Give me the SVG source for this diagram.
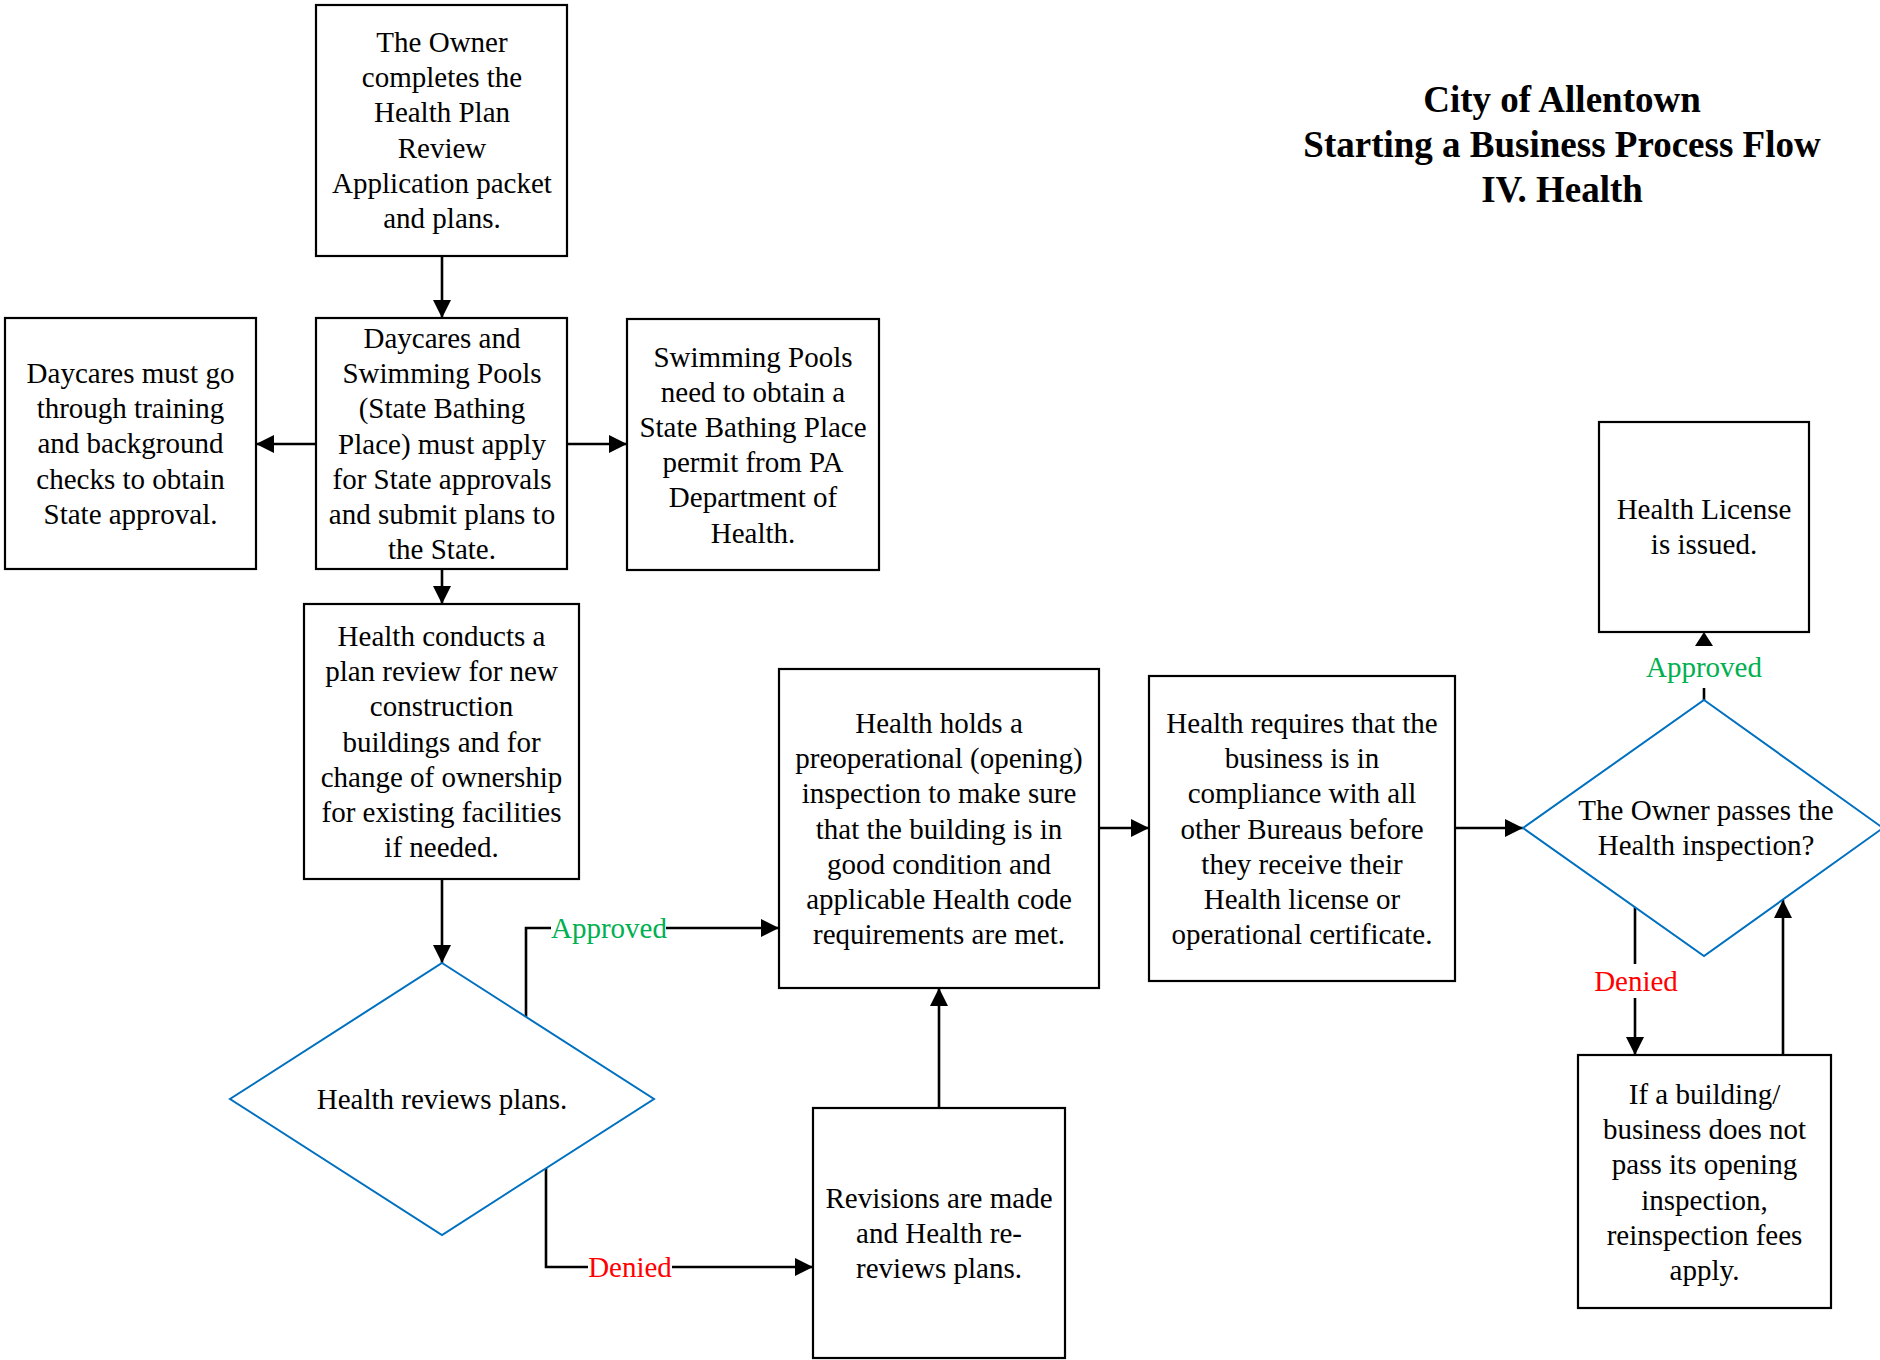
<svg xmlns="http://www.w3.org/2000/svg" width="1880" height="1360" viewBox="0 0 1880 1360">
<defs>
<style>
.box{fill:#fff;stroke:#000;stroke-width:2.2}
.dia{fill:#fff;stroke:#0070C0;stroke-width:2}
.t{font-family:"Liberation Serif","Times New Roman",serif;font-size:29px;fill:#000;text-anchor:middle}
.title{font-family:"Liberation Serif","Times New Roman",serif;font-size:37px;font-weight:bold;fill:#000;text-anchor:middle}
.c{fill:none;stroke:#000;stroke-width:2.6}
.ok{font-family:"Liberation Serif","Times New Roman",serif;font-size:29px;fill:#00B050;text-anchor:middle}
.no{font-family:"Liberation Serif","Times New Roman",serif;font-size:29px;fill:#FF0000;text-anchor:middle}
.bg{fill:#fff}
</style>
<marker id="ah" markerUnits="userSpaceOnUse" markerWidth="20" markerHeight="20" refX="18" refY="9" orient="auto">
<path d="M0,0 L18,9 L0,18 z" fill="#000"/>
</marker>
</defs>
<rect width="1880" height="1360" fill="#fff"/>

<g id="title">
<text class="title" x="1562" y="112">City of Allentown</text>
<text class="title" x="1562" y="157">Starting a Business Process Flow</text>
<text class="title" x="1562" y="202">IV. Health</text>
</g>

<g id="connectors">
<path class="c" d="M442,256 L442,318" marker-end="url(#ah)"/>
<path class="c" d="M316,444 L256,444" marker-end="url(#ah)"/>
<path class="c" d="M567,444 L627,444" marker-end="url(#ah)"/>
<path class="c" d="M442,569 L442,604" marker-end="url(#ah)"/>
<path class="c" d="M442,879 L442,963" marker-end="url(#ah)"/>
<path class="c" d="M526,1017 L526,928 L779,928" marker-end="url(#ah)"/>
<path class="c" d="M546,1168 L546,1267 L813,1267" marker-end="url(#ah)"/>
<path class="c" d="M939,1108 L939,988" marker-end="url(#ah)"/>
<path class="c" d="M1099,828 L1149,828" marker-end="url(#ah)"/>
<path class="c" d="M1455,828 L1523,828" marker-end="url(#ah)"/>
<path class="c" d="M1704,700 L1704,688"/>
<path d="M1704,632 L1713,646 L1695,646 z" fill="#000"/>
<path class="c" d="M1635,907 L1635,1055" marker-end="url(#ah)"/>
<path class="c" d="M1783,1055 L1783,900" marker-end="url(#ah)"/>
<rect class="bg" x="551" y="910" width="115" height="34"/>
<text class="ok" x="609" y="938">Approved</text>
<rect class="bg" x="588" y="1250" width="84" height="34"/>
<text class="no" x="630" y="1277">Denied</text>
<text class="ok" x="1704" y="677">Approved</text>
<rect class="bg" x="1594" y="964" width="84" height="34"/>
<text class="no" x="1636" y="991">Denied</text>
</g>

<g id="owner-completes">
<rect class="box" x="316" y="5" width="251" height="251"/>
<text class="t" x="442" y="52">The Owner</text>
<text class="t" x="442" y="87.2">completes the</text>
<text class="t" x="442" y="122.4">Health Plan</text>
<text class="t" x="442" y="157.6">Review</text>
<text class="t" x="442" y="192.8">Application packet</text>
<text class="t" x="442" y="228">and plans.</text>
</g>

<g id="daycares-pools">
<rect class="box" x="316" y="318" width="251" height="251"/>
<text class="t" x="442" y="348">Daycares and</text>
<text class="t" x="442" y="383.2">Swimming Pools</text>
<text class="t" x="442" y="418.4">(State Bathing</text>
<text class="t" x="442" y="453.6">Place) must apply</text>
<text class="t" x="442" y="488.8">for State approvals</text>
<text class="t" x="442" y="524">and submit plans to</text>
<text class="t" x="442" y="559.2">the State.</text>
</g>

<g id="daycares-training">
<rect class="box" x="5" y="318" width="251" height="251"/>
<text class="t" x="130.5" y="383">Daycares must go</text>
<text class="t" x="130.5" y="418.2">through training</text>
<text class="t" x="130.5" y="453.4">and background</text>
<text class="t" x="130.5" y="488.6">checks to obtain</text>
<text class="t" x="130.5" y="523.8">State approval.</text>
</g>

<g id="pools-permit">
<rect class="box" x="627" y="319" width="252" height="251"/>
<text class="t" x="753" y="366.5">Swimming Pools</text>
<text class="t" x="753" y="401.7">need to obtain a</text>
<text class="t" x="753" y="436.9">State Bathing Place</text>
<text class="t" x="753" y="472.1">permit from PA</text>
<text class="t" x="753" y="507.3">Department of</text>
<text class="t" x="753" y="542.5">Health.</text>
</g>

<g id="plan-review">
<rect class="box" x="304" y="604" width="275" height="275"/>
<text class="t" x="441.5" y="646">Health conducts a</text>
<text class="t" x="441.5" y="681.2">plan review for new</text>
<text class="t" x="441.5" y="716.4">construction</text>
<text class="t" x="441.5" y="751.6">buildings and for</text>
<text class="t" x="441.5" y="786.8">change of ownership</text>
<text class="t" x="441.5" y="822">for existing facilities</text>
<text class="t" x="441.5" y="857.2">if needed.</text>
</g>

<g id="reviews-plans">
<polygon class="dia" points="442,963 654,1099 442,1235 230,1099"/>
<text class="t" x="442" y="1109">Health reviews plans.</text>
</g>

<g id="revisions">
<rect class="box" x="813" y="1108" width="252" height="250"/>
<text class="t" x="939" y="1208">Revisions are made</text>
<text class="t" x="939" y="1243.2">and Health re-</text>
<text class="t" x="939" y="1278.4">reviews plans.</text>
</g>

<g id="preoperational">
<rect class="box" x="779" y="669" width="320" height="319"/>
<text class="t" x="939" y="733">Health holds a</text>
<text class="t" x="939" y="768.2">preoperational (opening)</text>
<text class="t" x="939" y="803.4">inspection to make sure</text>
<text class="t" x="939" y="838.6">that the building is in</text>
<text class="t" x="939" y="873.8">good condition and</text>
<text class="t" x="939" y="909">applicable Health code</text>
<text class="t" x="939" y="944.2">requirements are met.</text>
</g>

<g id="compliance">
<rect class="box" x="1149" y="676" width="306" height="305"/>
<text class="t" x="1302" y="733">Health requires that the</text>
<text class="t" x="1302" y="768.2">business is in</text>
<text class="t" x="1302" y="803.4">compliance with all</text>
<text class="t" x="1302" y="838.6">other Bureaus before</text>
<text class="t" x="1302" y="873.8">they receive their</text>
<text class="t" x="1302" y="909">Health license or</text>
<text class="t" x="1302" y="944.2">operational certificate.</text>
</g>

<g id="passes-inspection">
<polygon class="dia" points="1704,700 1883,828 1704,956 1523,828"/>
<text class="t" x="1706" y="820">The Owner passes the</text>
<text class="t" x="1706" y="855.2">Health inspection?</text>
</g>

<g id="license-issued">
<rect class="box" x="1599" y="422" width="210" height="210"/>
<text class="t" x="1704" y="519">Health License</text>
<text class="t" x="1704" y="554.2">is issued.</text>
</g>

<g id="reinspection">
<rect class="box" x="1578" y="1055" width="253" height="253"/>
<text class="t" x="1704.5" y="1104">If a building/</text>
<text class="t" x="1704.5" y="1139.2">business does not</text>
<text class="t" x="1704.5" y="1174.4">pass its opening</text>
<text class="t" x="1704.5" y="1209.6">inspection,</text>
<text class="t" x="1704.5" y="1244.8">reinspection fees</text>
<text class="t" x="1704.5" y="1280">apply.</text>
</g>
</svg>
